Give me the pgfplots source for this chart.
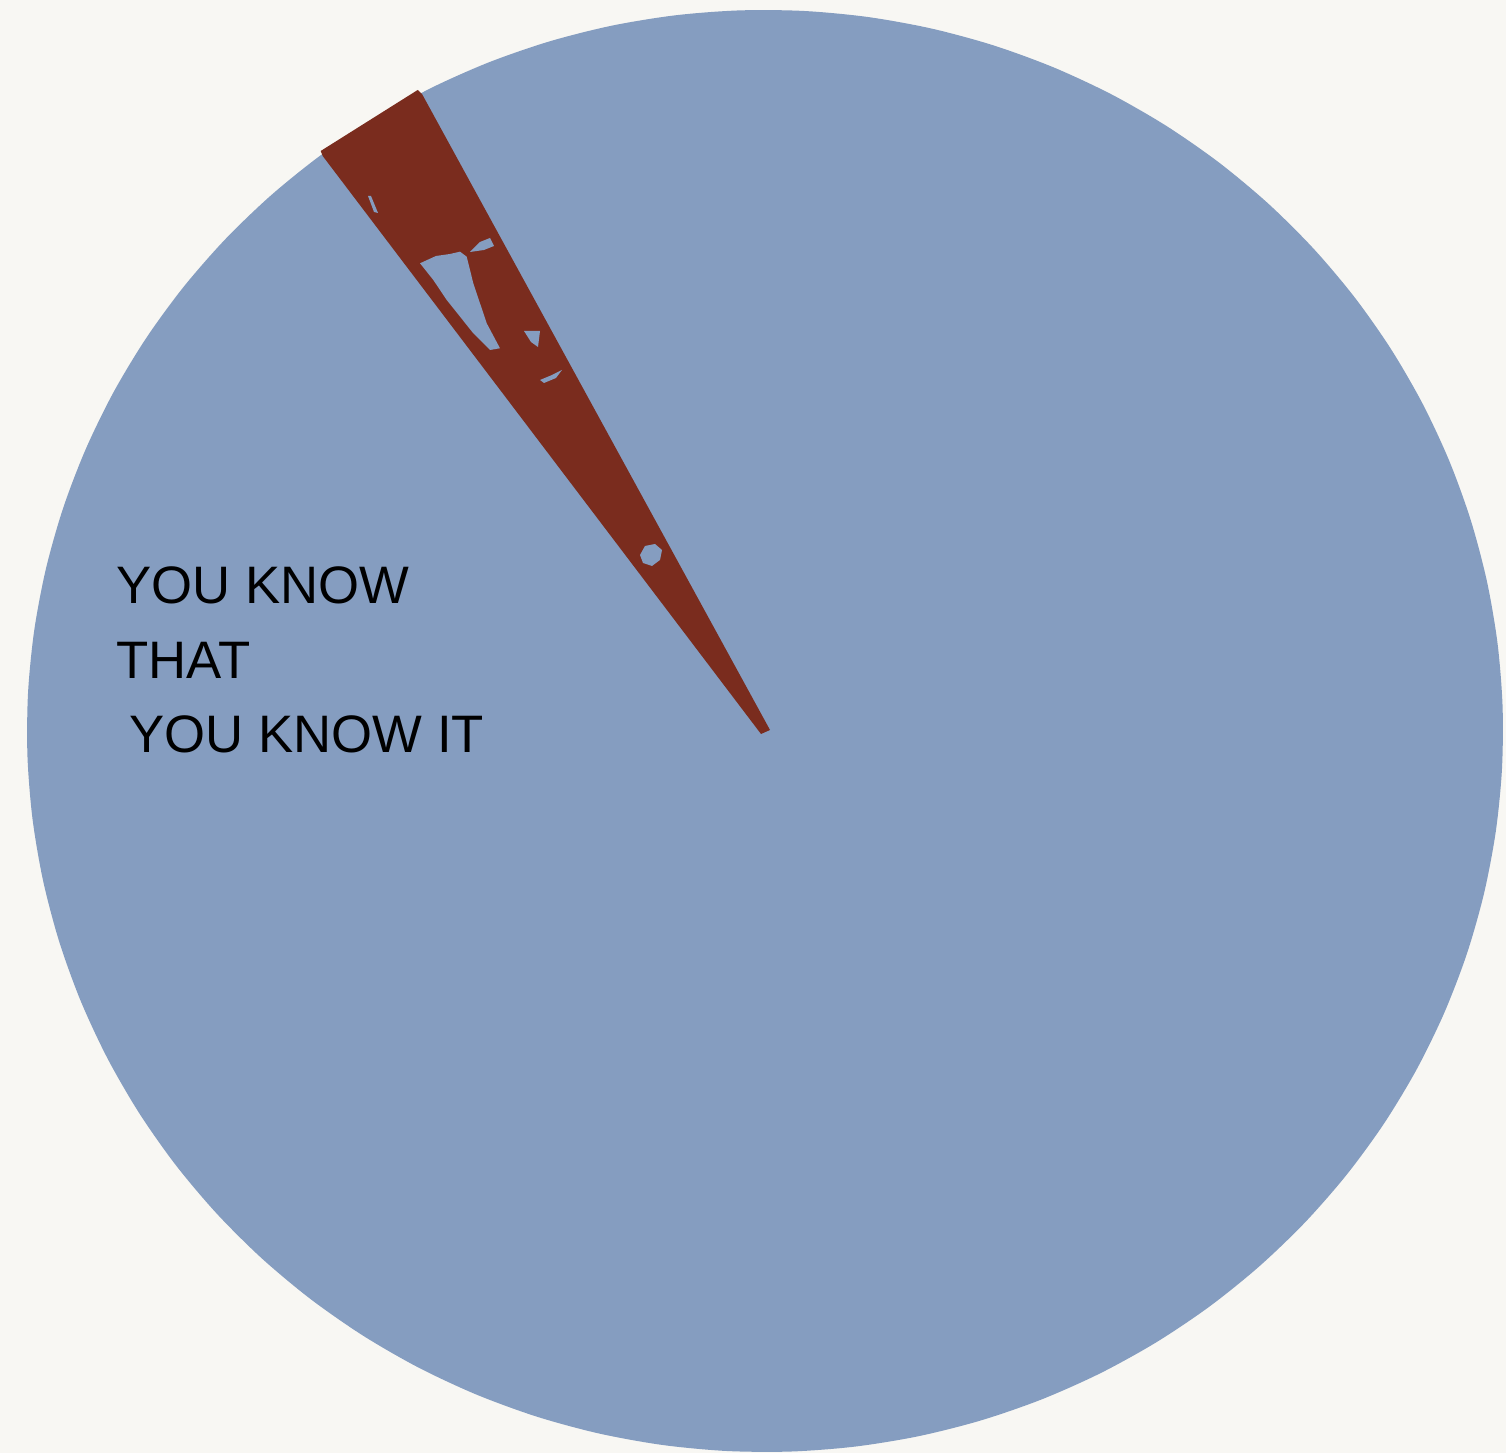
\documentclass[border=0pt]{standalone}
\usepackage{pgfplots}
\pgfplotsset{compat=1.18}
\usepackage{fontspec}
\setmainfont{Liberation Sans}
\definecolor{bgcol}{HTML}{F8F7F3}
\definecolor{pieblue}{HTML}{859DC0}
\definecolor{piered}{HTML}{7A2C1E}
\begin{document}
\begin{tikzpicture}
\fill[bgcol] (0,0) rectangle (150.6mm,145.3mm);
\useasboundingbox (0,0) rectangle (150.6mm,145.3mm);
% axis 1: normalized pie space (slightly elliptical as in reference)
\begin{axis}[at={(0,0)}, anchor=south west, scale only axis,
  width=150.6mm, height=145.3mm, hide axis,
  xmin=-1.0366, xmax=1.00407, ymin=-1.00139, ymax=1.01387]
\addplot[draw=none, fill=pieblue, smooth, data cs=polar] coordinates {
(122,1) (127,1) (132,1) (137,1) (142,1) (147,1) (152,1) (157,1) (162,1) (167,1)
(172,1) (177,1) (182,1) (187,1) (192,1) (197,1) (202,1) (207,1) (212,1) (217,1)
(222,1) (227,1) (232,1) (237,1) (242,1) (247,1) (252,1) (257,1) (262,1) (267,1)
(272,1) (277,1) (282,1) (287,1) (292,1) (297,1) (302,1) (307,1) (312,1) (317,1)
(322,1) (327,1) (332,1) (337,1) (342,1) (347,1) (352,1) (357,1) (362,1) (367,1)
(372,1) (377,1) (382,1) (387,1) (392,1) (397,1) (402,1) (407,1) (412,1) (417,1)
(422,1) (427,1) (432,1) (437,1) (442,1) (447,1) (452,1) (457,1) (462,1) (467,1)
(472,1) (477,1) (482,1)};
\end{axis}
% axis 2: pixel space for the small slice and label
\begin{axis}[at={(0,0)}, anchor=south west, scale only axis,
  width=150.6mm, height=145.3mm, hide axis, clip=false,
  xmin=0, xmax=1506, ymin=0, ymax=1453, y dir=reverse]
\addplot[draw=none, fill=piered] coordinates {
(761,734) (322.7,156) (320.7,151) (417.7,90) (422,94) (770,730)} -- cycle;
% holes in the slice
\addplot[draw=none, fill=pieblue] coordinates {
(420,263.3) (436,256) (450,254) (460,251.7) (466.7,256.7) (473.3,283.3) (486.7,323.3)
(500,348.3) (490,350) (473.3,333.3) (446.7,300) (433.3,280)} -- cycle;
\addplot[draw=none, fill=pieblue] coordinates {
(470,252) (480,242) (490,238) (494,246) (484,250)} -- cycle;
\addplot[draw=none, fill=pieblue] coordinates {
(640,555) (645,546) (655,544) (662,550) (660,560) (652,566) (643,563)} -- cycle;
\addplot[draw=none, fill=pieblue] coordinates {
(524,331) (540,331) (538,347) (531,342)} -- cycle;
\addplot[draw=none, fill=pieblue] coordinates {
(540,380) (552,375) (562,370) (556,378) (544,383)} -- cycle;
\addplot[draw=none, fill=pieblue] coordinates {
(368,196) (371,196) (378,213) (374,212)} -- cycle;
\node[anchor=base west, font=\fontsize{15}{17}\selectfont, inner sep=0pt] at (axis cs:116,604) {YOU KNOW};
\node[anchor=base west, font=\fontsize{15}{17}\selectfont, inner sep=0pt] at (axis cs:116,679) {THAT};
\node[anchor=base west, font=\fontsize{15}{17}\selectfont, inner sep=0pt] at (axis cs:129,753) {YOU KNOW IT};
\end{axis}
\end{tikzpicture}
\end{document}
